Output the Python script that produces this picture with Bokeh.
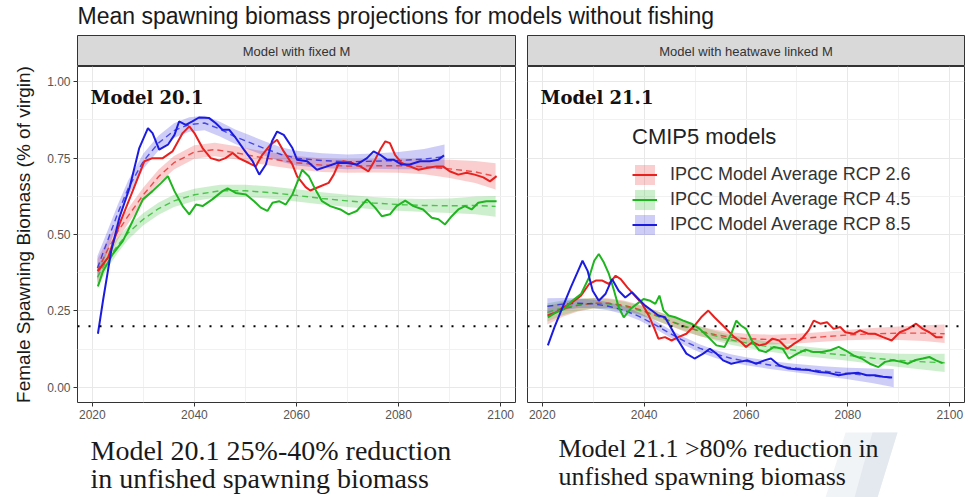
from bokeh.plotting import figure
from bokeh.models import FixedTicker, Legend, LegendItem, Label, Range1d
from bokeh.layouts import column, row
from bokeh.embed import file_html
from bokeh.resources import INLINE
from bokeh.core.properties import value

# ---------------- texts ----------------
TITLE = "Mean spawning biomass projections for models without fishing"
Y_LABEL = "Female Spawning Biomass (% of virgin)"
STRIPS = ["Model with fixed M", "Model with heatwave linked M"]
MODEL_LABELS = ["Model 20.1", "Model 21.1"]
SCENARIOS = ["IPCC Model Average RCP 2.6", "IPCC Model Average RCP 4.5", "IPCC Model Average RCP 8.5"]
LEGEND_TITLE = "CMIP5 models"
NOTES_LEFT = ["Model 20.1 25%-40% reduction", "in unfished spawning biomass"]
NOTES_RIGHT = ["Model 21.1 >80% reduction in", "unfished spawning biomass"]

X_TICKS = [2020, 2040, 2060, 2080, 2100]
X_MINOR = [2030, 2050, 2070, 2090]
Y_TICKS = [0.0, 0.25, 0.5, 0.75, 1.0]
Y_TICK_LABELS = ["0.00", "0.25", "0.50", "0.75", "1.00"]
Y_MINOR = [0.125, 0.375, 0.625, 0.875]
THRESHOLD = 0.2

# ---------------- data: Model with fixed M ----------------
fixed_rcp26_years = [2021.1, 2023.1, 2025.3, 2027.9, 2030.2, 2031.8, 2033.8, 2035.7, 2037.7, 2039.0, 2040.0, 2041.6, 2043.2, 2044.8, 2046.1, 2047.5, 2048.7, 2050.7, 2052.0, 2053.3, 2054.9, 2056.2, 2057.5, 2059.2, 2060.1, 2061.8, 2062.7, 2064.7, 2066.3, 2067.3, 2068.3, 2069.2, 2070.9, 2072.5, 2074.1, 2075.4, 2076.4, 2077.4, 2078.3, 2079.3, 2080.6, 2082.2, 2083.9, 2085.5, 2087.4, 2088.7, 2090.0, 2091.7, 2093.3, 2094.9, 2096.6, 2097.9, 2099.2]
fixed_rcp26_ssb = [0.38, 0.425, 0.533, 0.642, 0.74, 0.75, 0.75, 0.772, 0.832, 0.854, 0.832, 0.783, 0.75, 0.742, 0.75, 0.767, 0.75, 0.734, 0.723, 0.761, 0.794, 0.81, 0.772, 0.729, 0.691, 0.655, 0.644, 0.658, 0.669, 0.696, 0.734, 0.74, 0.734, 0.723, 0.707, 0.745, 0.778, 0.805, 0.799, 0.761, 0.734, 0.723, 0.712, 0.718, 0.723, 0.723, 0.707, 0.696, 0.702, 0.696, 0.687, 0.674, 0.691]

fixed_rcp45_years = [2021.1, 2022.1, 2024.0, 2026.0, 2027.9, 2029.9, 2031.8, 2033.5, 2034.8, 2036.1, 2037.7, 2039.0, 2040.3, 2041.6, 2043.5, 2045.5, 2046.5, 2048.1, 2050.1, 2051.7, 2053.0, 2054.3, 2055.3, 2056.6, 2057.9, 2059.2, 2060.5, 2061.1, 2062.4, 2063.7, 2065.0, 2066.6, 2068.6, 2070.2, 2071.8, 2073.8, 2075.4, 2076.7, 2078.3, 2079.6, 2081.3, 2082.9, 2084.8, 2086.5, 2087.8, 2089.1, 2090.4, 2091.7, 2093.0, 2094.3, 2095.6, 2097.2, 2099.2]
fixed_rcp45_ssb = [0.33, 0.38, 0.436, 0.479, 0.544, 0.615, 0.642, 0.669, 0.691, 0.642, 0.593, 0.566, 0.598, 0.593, 0.615, 0.642, 0.651, 0.636, 0.631, 0.609, 0.588, 0.577, 0.604, 0.609, 0.598, 0.631, 0.685, 0.712, 0.691, 0.647, 0.609, 0.593, 0.582, 0.566, 0.577, 0.615, 0.588, 0.56, 0.566, 0.593, 0.611, 0.593, 0.582, 0.555, 0.55, 0.533, 0.56, 0.582, 0.593, 0.582, 0.604, 0.609, 0.609]

fixed_rcp85_years = [2021.1, 2022.1, 2023.7, 2025.3, 2027.3, 2029.2, 2030.9, 2031.8, 2033.1, 2034.8, 2036.1, 2037.0, 2038.3, 2039.6, 2040.9, 2042.9, 2044.2, 2045.5, 2046.8, 2048.1, 2049.7, 2051.4, 2052.7, 2054.0, 2055.2, 2056.2, 2057.5, 2059.2, 2060.1, 2062.1, 2064.0, 2066.0, 2067.9, 2069.9, 2071.8, 2073.8, 2075.1, 2076.4, 2077.7, 2079.0, 2080.6, 2082.2, 2084.2, 2086.1, 2087.8, 2088.9]
fixed_rcp85_ssb = [0.175, 0.284, 0.446, 0.555, 0.653, 0.783, 0.848, 0.832, 0.778, 0.794, 0.826, 0.87, 0.859, 0.87, 0.883, 0.881, 0.864, 0.843, 0.843, 0.816, 0.778, 0.74, 0.696, 0.729, 0.805, 0.837, 0.826, 0.783, 0.745, 0.74, 0.712, 0.723, 0.734, 0.734, 0.729, 0.75, 0.772, 0.761, 0.745, 0.745, 0.729, 0.729, 0.74, 0.74, 0.745, 0.759]

# smoothed trends (mean and half width of the confidence band)
fixed_rcp26_fit_years = [2021, 2023, 2025, 2027, 2030, 2033, 2036, 2040, 2044, 2048, 2052, 2056, 2060, 2065, 2070, 2075, 2080, 2085, 2090, 2095, 2099]
fixed_rcp26_fit = [0.38, 0.45, 0.51, 0.56, 0.63, 0.69, 0.735, 0.77, 0.778, 0.768, 0.755, 0.745, 0.735, 0.727, 0.724, 0.725, 0.725, 0.722, 0.715, 0.705, 0.69]
fixed_rcp26_fit_se = [0.04, 0.032, 0.027, 0.025, 0.024, 0.023, 0.022, 0.022, 0.022, 0.022, 0.022, 0.022, 0.022, 0.022, 0.022, 0.022, 0.023, 0.025, 0.03, 0.036, 0.043]

fixed_rcp45_fit_years = [2021, 2023, 2025, 2027, 2030, 2033, 2036, 2040, 2045, 2050, 2055, 2060, 2065, 2070, 2075, 2080, 2085, 2090, 2095, 2099]
fixed_rcp45_fit = [0.36, 0.42, 0.465, 0.505, 0.55, 0.585, 0.61, 0.63, 0.643, 0.643, 0.637, 0.628, 0.618, 0.61, 0.603, 0.598, 0.595, 0.594, 0.595, 0.592]
fixed_rcp45_fit_se = [0.036, 0.03, 0.025, 0.022, 0.02, 0.02, 0.02, 0.02, 0.02, 0.02, 0.02, 0.02, 0.02, 0.02, 0.02, 0.02, 0.021, 0.024, 0.029, 0.034]

fixed_rcp85_fit_years = [2021, 2023, 2025, 2027, 2030, 2033, 2036, 2039, 2042, 2045, 2048, 2051, 2054, 2057, 2060, 2065, 2070, 2075, 2080, 2085, 2089]
fixed_rcp85_fit = [0.39, 0.48, 0.57, 0.65, 0.74, 0.80, 0.84, 0.86, 0.865, 0.845, 0.82, 0.80, 0.78, 0.762, 0.75, 0.742, 0.738, 0.74, 0.742, 0.747, 0.755]
fixed_rcp85_fit_se = [0.04, 0.033, 0.028, 0.026, 0.025, 0.024, 0.024, 0.024, 0.024, 0.024, 0.024, 0.024, 0.024, 0.024, 0.024, 0.024, 0.024, 0.025, 0.028, 0.033, 0.04]

# ---------------- data: Model with heatwave linked M ----------------
heat_rcp26_years = [2021.1, 2022.7, 2024.3, 2025.9, 2027.6, 2029.2, 2030.5, 2031.8, 2033.1, 2034.4, 2035.4, 2036.7, 2037.9, 2039.6, 2040.9, 2041.9, 2042.8, 2044.1, 2045.4, 2046.7, 2048.3, 2049.9, 2051.2, 2052.6, 2053.8, 2055.1, 2056.4, 2057.7, 2059.0, 2060.0, 2061.3, 2062.6, 2063.9, 2065.2, 2066.5, 2068.1, 2069.4, 2071.0, 2072.3, 2073.3, 2074.6, 2075.9, 2077.2, 2078.5, 2079.5, 2081.1, 2082.4, 2084.0, 2085.3, 2086.9, 2088.6, 2090.2, 2091.8, 2093.4, 2094.7, 2096.0, 2097.3, 2098.6]
heat_rcp26_ssb = [0.235, 0.245, 0.262, 0.278, 0.30, 0.338, 0.349, 0.349, 0.338, 0.365, 0.354, 0.327, 0.305, 0.273, 0.235, 0.197, 0.159, 0.164, 0.153, 0.164, 0.175, 0.202, 0.229, 0.251, 0.229, 0.208, 0.186, 0.164, 0.148, 0.132, 0.148, 0.137, 0.142, 0.159, 0.153, 0.126, 0.142, 0.159, 0.186, 0.218, 0.208, 0.213, 0.191, 0.197, 0.18, 0.175, 0.186, 0.175, 0.175, 0.164, 0.153, 0.18, 0.191, 0.208, 0.191, 0.18, 0.164, 0.164]

heat_rcp45_years = [2021.1, 2022.7, 2024.3, 2025.9, 2027.6, 2029.2, 2030.2, 2031.1, 2032.1, 2033.1, 2034.1, 2035.0, 2036.0, 2037.3, 2038.6, 2039.9, 2041.2, 2042.2, 2043.0, 2043.8, 2044.8, 2046.1, 2047.7, 2049.3, 2050.9, 2052.6, 2054.2, 2055.8, 2057.1, 2058.1, 2059.0, 2060.0, 2061.3, 2062.6, 2063.9, 2065.5, 2067.2, 2068.4, 2070.1, 2071.7, 2073.3, 2074.9, 2076.6, 2078.2, 2079.5, 2081.1, 2082.7, 2084.3, 2086.0, 2087.3, 2088.9, 2090.5, 2091.8, 2093.1, 2094.7, 2096.0, 2097.3, 2098.6]
heat_rcp45_ssb = [0.229, 0.245, 0.256, 0.283, 0.305, 0.36, 0.414, 0.436, 0.408, 0.37, 0.316, 0.262, 0.229, 0.256, 0.273, 0.289, 0.283, 0.273, 0.30, 0.251, 0.235, 0.229, 0.218, 0.208, 0.191, 0.164, 0.137, 0.132, 0.175, 0.218, 0.202, 0.191, 0.148, 0.121, 0.115, 0.132, 0.126, 0.094, 0.11, 0.123, 0.115, 0.115, 0.121, 0.132, 0.121, 0.104, 0.094, 0.077, 0.066, 0.083, 0.088, 0.083, 0.077, 0.088, 0.094, 0.099, 0.088, 0.079]

heat_rcp85_years = [2021.1, 2022.4, 2024.0, 2025.6, 2026.9, 2027.9, 2028.9, 2029.9, 2031.1, 2032.4, 2033.7, 2035.0, 2036.3, 2037.6, 2038.9, 2040.2, 2041.5, 2042.8, 2044.1, 2045.4, 2046.7, 2048.3, 2049.9, 2051.6, 2052.9, 2054.2, 2055.5, 2057.1, 2058.7, 2060.3, 2062.0, 2063.6, 2064.9, 2066.5, 2068.4, 2070.4, 2072.3, 2074.3, 2076.2, 2078.2, 2080.1, 2082.1, 2083.7, 2085.3, 2086.9, 2088.7]
heat_rcp85_ssb = [0.137, 0.197, 0.262, 0.327, 0.376, 0.414, 0.381, 0.316, 0.283, 0.305, 0.354, 0.316, 0.294, 0.311, 0.289, 0.267, 0.251, 0.235, 0.229, 0.191, 0.153, 0.11, 0.094, 0.11, 0.126, 0.11, 0.088, 0.077, 0.083, 0.088, 0.077, 0.088, 0.094, 0.072, 0.061, 0.058, 0.056, 0.05, 0.047, 0.039, 0.045, 0.047, 0.039, 0.039, 0.034, 0.032]

heat_rcp26_fit_years = [2021, 2024, 2027, 2030, 2033, 2036, 2039, 2042, 2045, 2048, 2051, 2054, 2057, 2060, 2065, 2070, 2075, 2080, 2085, 2090, 2095, 2099]
heat_rcp26_fit = [0.235, 0.255, 0.268, 0.275, 0.275, 0.268, 0.255, 0.237, 0.217, 0.198, 0.183, 0.172, 0.164, 0.159, 0.156, 0.159, 0.165, 0.171, 0.175, 0.177, 0.177, 0.175]
heat_rcp26_fit_se = [0.03, 0.024, 0.02, 0.017, 0.016, 0.016, 0.016, 0.016, 0.016, 0.016, 0.016, 0.016, 0.016, 0.016, 0.016, 0.016, 0.016, 0.017, 0.019, 0.022, 0.026, 0.03]

heat_rcp45_fit_years = [2021, 2024, 2027, 2030, 2033, 2036, 2039, 2042, 2045, 2048, 2051, 2054, 2057, 2060, 2065, 2070, 2075, 2080, 2085, 2090, 2095, 2099]
heat_rcp45_fit = [0.245, 0.26, 0.27, 0.275, 0.273, 0.265, 0.252, 0.236, 0.218, 0.20, 0.183, 0.168, 0.155, 0.145, 0.131, 0.12, 0.112, 0.104, 0.095, 0.088, 0.083, 0.08]
heat_rcp45_fit_se = [0.03, 0.024, 0.02, 0.017, 0.016, 0.016, 0.016, 0.016, 0.016, 0.016, 0.016, 0.016, 0.016, 0.016, 0.016, 0.016, 0.016, 0.017, 0.019, 0.022, 0.026, 0.03]

heat_rcp85_fit_years = [2021, 2024, 2027, 2030, 2033, 2036, 2039, 2042, 2045, 2048, 2051, 2054, 2057, 2060, 2065, 2070, 2075, 2080, 2085, 2089]
heat_rcp85_fit = [0.265, 0.272, 0.275, 0.273, 0.265, 0.252, 0.232, 0.206, 0.177, 0.15, 0.127, 0.109, 0.095, 0.085, 0.072, 0.062, 0.053, 0.045, 0.037, 0.03]
heat_rcp85_fit_se = [0.026, 0.02, 0.016, 0.014, 0.013, 0.013, 0.013, 0.013, 0.013, 0.013, 0.013, 0.013, 0.013, 0.013, 0.013, 0.014, 0.016, 0.019, 0.024, 0.03]

COLORS = ["#e8201e", "#1fb51f", "#1c1ce0"]

PANELS = [
    {
        "lines": [(fixed_rcp26_years, fixed_rcp26_ssb), (fixed_rcp45_years, fixed_rcp45_ssb), (fixed_rcp85_years, fixed_rcp85_ssb)],
        "fits": [(fixed_rcp26_fit_years, fixed_rcp26_fit, fixed_rcp26_fit_se),
                 (fixed_rcp45_fit_years, fixed_rcp45_fit, fixed_rcp45_fit_se),
                 (fixed_rcp85_fit_years, fixed_rcp85_fit, fixed_rcp85_fit_se)],
    },
    {
        "lines": [(heat_rcp26_years, heat_rcp26_ssb), (heat_rcp45_years, heat_rcp45_ssb), (heat_rcp85_years, heat_rcp85_ssb)],
        "fits": [(heat_rcp26_fit_years, heat_rcp26_fit, heat_rcp26_fit_se),
                 (heat_rcp45_fit_years, heat_rcp45_fit, heat_rcp45_fit_se),
                 (heat_rcp85_fit_years, heat_rcp85_fit, heat_rcp85_fit_se)],
    },
]

# ---------------- layout constants ----------------
FONT = "Liberation Sans"
SERIF = "DejaVu Serif"
NOTE_FONT = "Liberation Serif"
X_START, X_END = 2017.1, 2102.9
Y_START, Y_END = -0.05, 1.05
STRIP_H = 31
PANEL_H = 364
BOTTOM_BORDER = 28


def make_strip(i, width, bl, br):
    s = figure(width=width, height=STRIP_H, x_range=Range1d(0, 1), y_range=Range1d(0, 1),
               output_backend="svg", toolbar_location=None, title=None,
               x_axis_location=None, y_axis_location=None,
               min_border_left=bl, min_border_right=br, min_border_top=0, min_border_bottom=0)
    s.grid.visible = False
    s.background_fill_color = "#d9d9d9"
    s.border_fill_color = "white"
    s.outline_line_color = "#333333"
    s.outline_line_width = 1
    s.text(x=[0.5], y=[0.5], text=[STRIPS[i]], text_align="center", text_baseline="middle",
           text_font=value(FONT), text_font_size="13px", text_color="#333333")
    return s


def make_panel(i, width, bl, br, show_y):
    p = figure(width=width, height=PANEL_H, x_range=Range1d(X_START, X_END),
               y_range=Range1d(Y_START, Y_END), output_backend="svg",
               toolbar_location=None, title=None,
               min_border_left=bl, min_border_right=br, min_border_top=0, min_border_bottom=BOTTOM_BORDER)
    p.background_fill_color = "white"
    p.border_fill_color = "white"
    p.outline_line_color = "#333333"
    p.outline_line_width = 1

    xt = FixedTicker(ticks=X_TICKS, minor_ticks=X_MINOR)
    yt = FixedTicker(ticks=Y_TICKS, minor_ticks=Y_MINOR)
    p.xaxis.ticker = xt
    p.yaxis.ticker = yt
    p.xgrid.ticker = xt
    p.ygrid.ticker = yt
    for g in (p.xgrid, p.ygrid):
        g.grid_line_color = "#e8e8e8"
        g.grid_line_width = 1
        g.minor_grid_line_color = "#f1f1f1"
        g.minor_grid_line_width = 1

    ax = p.xaxis[0]
    ax.axis_line_color = None
    ax.major_tick_line_color = "#333333"
    ax.major_tick_out = 4
    ax.major_tick_in = 0
    ax.minor_tick_line_color = None
    ax.major_label_text_font = FONT
    ax.major_label_text_font_size = "12px"
    ax.major_label_text_color = "#555555"
    ax.major_label_standoff = 3

    ay = p.yaxis[0]
    if show_y:
        ay.axis_line_color = None
        ay.major_tick_line_color = "#333333"
        ay.major_tick_out = 4
        ay.major_tick_in = 0
        ay.minor_tick_line_color = None
        ay.major_label_overrides = {t: s for t, s in zip(Y_TICKS, Y_TICK_LABELS)}
        ay.major_label_text_font = FONT
        ay.major_label_text_font_size = "12px"
        ay.major_label_text_color = "#555555"
        ay.major_label_standoff = 3
        ay.axis_label = Y_LABEL
        ay.axis_label_text_font = FONT
        ay.axis_label_text_font_size = "19px"
        ay.axis_label_text_font_style = "normal"
        ay.axis_label_text_color = "#1a1a1a"
        ay.axis_label_standoff = 10
    else:
        ay.visible = False

    data = PANELS[i]
    ribbons, solids = [], []
    for k, (fy, fm, fse) in enumerate(data["fits"]):
        lo = [m - s for m, s in zip(fm, fse)]
        hi = [m + s for m, s in zip(fm, fse)]
        r = p.varea(x=fy, y1=lo, y2=hi, fill_color=COLORS[k], fill_alpha=0.22)
        ribbons.append(r)
    for k, (fy, fm, fse) in enumerate(data["fits"]):
        p.line(fy, fm, line_color=COLORS[k], line_width=1.4, line_dash="6 4", line_alpha=0.75)
    for k, (ly, lv) in enumerate(data["lines"]):
        s = p.line(ly, lv, line_color=COLORS[k], line_width=2)
        solids.append(s)

    p.segment(x0=[X_START], x1=[X_END], y0=[THRESHOLD], y1=[THRESHOLD],
              line_color="black", line_width=2, line_dash="2 9")

    p.add_layout(Label(x=13, y=305, x_units="screen", y_units="screen", text=MODEL_LABELS[i],
                       text_font=SERIF, text_font_style="bold",
                       text_font_size="18px", text_color="#111111", text_baseline="alphabetic"))
    return p, ribbons, solids


left, _, _ = make_panel(0, 521, 77, 6, True)
right, rib, sol = make_panel(1, 447, 6, 4, False)
strip_left = make_strip(0, 521, 77, 6)
strip_right = make_strip(1, 447, 6, 4)

legend = Legend(
    items=[LegendItem(label=SCENARIOS[k], renderers=[rib[k], sol[k]]) for k in range(3)],
    title=LEGEND_TITLE, location=(105, 165),
    background_fill_alpha=0, border_line_color=None, padding=0, margin=0, spacing=0,
    glyph_width=25, glyph_height=25, label_height=25, label_standoff=13,
    label_text_font=FONT, label_text_font_size="18px", label_text_color="#333333",
    title_text_font=FONT, title_text_font_size="22px", title_text_font_style="normal",
    title_text_color="#222222", title_standoff=12,
)
right.add_layout(legend)

# ---------------- title strip ----------------
top = figure(width=968, height=35, x_range=Range1d(0, 968), y_range=Range1d(35, 0),
             output_backend="svg", toolbar_location=None, title=None,
             x_axis_location=None, y_axis_location=None, min_border=0)
top.grid.visible = False
top.outline_line_color = None
top.text(x=[77], y=[15], text=[TITLE], text_font=value(FONT), text_font_size="23px",
         text_baseline="middle", text_color="#1a1a1a")

# ---------------- bottom notes ----------------
bottom = figure(width=968, height=67, x_range=Range1d(0, 968), y_range=Range1d(67, 0),
                output_backend="svg", toolbar_location=None, title=None,
                x_axis_location=None, y_axis_location=None, min_border=0)
bottom.grid.visible = False
bottom.outline_line_color = None
bottom.patch([845, 897, 877, 825], [2, 2, 67, 67], fill_color="#f1f4f7", line_color=None)
bottom.patch([872, 897, 877, 854], [2, 2, 67, 67], fill_color="#e4e9ef", line_color=None)
bottom.text(x=[90, 90], y=[20, 48], text=NOTES_LEFT, text_font=value(NOTE_FONT),
            text_font_size="28px", text_baseline="middle", text_color="#1a1a1a")
bottom.text(x=[558, 558], y=[18, 46], text=NOTES_RIGHT, text_font=value(NOTE_FONT),
            text_font_size="26px", text_baseline="middle", text_color="#1a1a1a")

layout = column(top, row(column(strip_left, left), column(strip_right, right)), bottom)
open("out.html", "w").write(file_html(layout, INLINE))
